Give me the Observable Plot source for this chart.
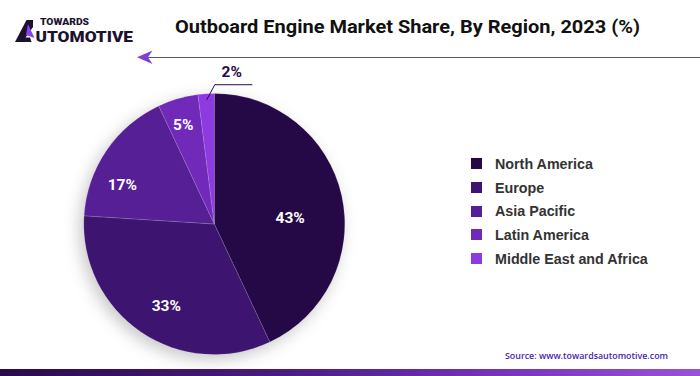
<!DOCTYPE html>
<html>
<head>
<meta charset="utf-8">
<script src="https://cdn.jsdelivr.net/npm/d3@7"></script>
<script src="https://cdn.jsdelivr.net/npm/@observablehq/plot@0.6"></script>
<style>
  html, body { margin: 0; padding: 0; background: #fff; }
  #wrap { position: relative; width: 700px; height: 376px; overflow: hidden; background: #fff; font-family: Roboto, "Open Sans", sans-serif; }
  #header { position: absolute; left: 0; top: 0; }
  #chart { position: absolute; left: 0; top: 60px; width: 700px; height: 306px; }
  #legend { position: absolute; left: 0; top: 0; }
  .lg-row { position: absolute; left: 471px; height: 16px; display: flex; align-items: center; white-space: nowrap; }
  .lg-sw { width: 11px; height: 11px; margin-right: 13px; }
  .lg-tx { font-family: "Liberation Sans", Arial, sans-serif; font-weight: 700; font-size: 14.3px; color: #333; line-height: 16px; }
  #footer { position: absolute; left: 0; top: 340px; }
  #bar { position: absolute; left: 0; top: 369px; width: 700px; height: 7px; background: linear-gradient(90deg, #2a0a4a 0%, #4a1a80 40%, #7a38bf 75%, #9a52d4 100%); }
</style>
</head>
<body>
<div id="wrap">
  <svg id="header" width="700" height="66" viewBox="0 0 700 66">
    <!-- logo -->
    <text x="40" y="25.3" font-family="Roboto, sans-serif" font-weight="900" font-size="8.4" fill="#1c1230" textLength="49" lengthAdjust="spacingAndGlyphs">TOWARDS</text>
    <polygon points="15,42 26.5,20 33,20 33,27 22.5,42" fill="#1c1230"/>
    <polygon points="28,24 34.5,38 26,35" fill="#8a44e6"/>
    <polygon points="19,37.5 30,37.5 31.5,42 18,42" fill="#1c1230"/>
    <text x="35.5" y="41.8" font-family="Roboto, sans-serif" font-weight="900" font-size="15" fill="#1c1230" textLength="97.5" lengthAdjust="spacingAndGlyphs">UTOMOTIVE</text>
    <!-- title -->
    <text x="407.5" y="33.4" text-anchor="middle" font-family="Roboto, sans-serif" font-weight="700" font-size="18.6" fill="#111" textLength="465" lengthAdjust="spacingAndGlyphs">Outboard Engine Market Share, By Region, 2023 (%)</text>
    <!-- rule with arrow -->
    <line x1="146" x2="700" y1="57.5" y2="57.5" stroke="#5a5a5a" stroke-width="1.2"/>
    <polygon points="137,57.3 152.5,50.5 148,57.3 152.5,64" fill="#7d3fd6"/>
  </svg>
  <div id="chart"></div>
  <div id="legend"></div>
  <svg id="footer" width="700" height="30" viewBox="0 340 700 30">
    <text x="505" y="358.6" font-family="'Open Sans', sans-serif" font-weight="600" font-size="9" fill="#4a22b2" textLength="163" lengthAdjust="spacingAndGlyphs">Source: www.towardsautomotive.com</text>
  </svg>
  <div id="bar"></div>
</div>
<script>
// ---- data ----
const regions = ["North America", "Europe", "Asia Pacific", "Latin America", "Middle East and Africa"];
const shares = [43, 33, 17, 5, 2];
const colors = ["#250946", "#3d146f", "#571f96", "#7029b8", "#8d3be0"];
const sourceText = "Source: www.towardsautomotive.com";

// ---- layout (pixels inside the chart svg) ----
const W = 700, H = 306;
const cx = 214.3, cy = 164, R = 130.5;
// per-slice label placement (radius fraction, angle nudge in degrees) for inside labels
const labelPlace = [
  {f: 0.58, da: 7.5},
  {f: 0.73, da: -3.6},
  {f: 0.77, da: -11.2},
  {f: 0.80, da: -1.4}
];

const data = regions.map((r, i) => ({region: r, share: shares[i], color: colors[i]}));
const arcs = d3.pie().sort(null).value(d => d.share)(data);
const slices = arcs.map(a => ({...a.data, a0: a.startAngle, a1: a.endAngle, mid: (a.startAngle + a.endAngle) / 2}));

const polar = (ang, f) => ({x: f * Math.sin(ang), y: -f * Math.cos(ang)});

const inside = [];
const outside = [];
let k = 0;
slices.forEach(s => {
  if (s.share >= 3) {
    const p = labelPlace[k++] || {f: 0.7, da: 0};
    const pt = polar(s.mid + p.da * Math.PI / 180, p.f);
    inside.push({...pt, label: s.share + "%"});
  } else {
    outside.push(s);
  }
});

// leader line for small slices
const leader = [];
const outLabels = [];
outside.forEach((s, i) => {
  const a = polar(s.mid, 0.96);
  const b = {x: a.x + 0.06, y: a.y - 0.113};
  const c = {x: b.x + 0.285, y: b.y};
  leader.push({...a, g: i}, {...b, g: i}, {...c, g: i});
  outLabels.push({x: b.x + 0.13, y: b.y - 0.097, label: s.share + "%"});
});

function sliceMark(index, scales) {
  const x0 = scales.x(0), y0 = scales.y(0);
  const r = scales.x(1) - scales.x(0);
  const arc = d3.arc().innerRadius(0).outerRadius(r);
  const g = d3.create("svg:g")
    .attr("transform", `translate(${x0},${y0})`)
    .style("filter", "drop-shadow(-4px 5px 8px rgba(0,0,0,0.22))");
  g.selectAll("path").data(slices).join("path")
    .attr("d", d => arc({startAngle: d.a0, endAngle: d.a1}))
    .attr("fill", d => d.color)
    .attr("stroke", "rgba(255,255,255,0.22)")
    .attr("stroke-width", 0.6);
  return g.node();
}

const chart = Plot.plot({
  width: W,
  height: H,
  margin: 0,
  style: {background: "transparent", overflow: "visible"},
  x: {domain: [-1, 1], range: [cx - R, cx + R], axis: null},
  y: {domain: [-1, 1], range: [cy - R, cy + R], axis: null},
  marks: [
    sliceMark,
    Plot.text(inside, {x: "x", y: "y", text: "label", fill: "#fff", fontSize: 15.5, fontWeight: 700, fontFamily: "Roboto, sans-serif"}),
    Plot.line(leader, {x: "x", y: "y", z: "g", stroke: "#2a0a4a", strokeWidth: 1}),
    Plot.text(outLabels, {x: "x", y: "y", text: "label", fill: "#2a0a4a", fontSize: 15.5, fontWeight: 700, fontFamily: "Roboto, sans-serif"})
  ]
});
document.getElementById("chart").appendChild(chart);

// legend
const lg = document.getElementById("legend");
regions.forEach((r, i) => {
  const row = document.createElement("div");
  row.className = "lg-row";
  row.style.top = (163.8 + 23.7 * i - 8) + "px";
  const sw = document.createElement("div");
  sw.className = "lg-sw";
  sw.style.background = colors[i];
  const tx = document.createElement("span");
  tx.className = "lg-tx";
  tx.textContent = r;
  row.appendChild(sw);
  row.appendChild(tx);
  lg.appendChild(row);
});
</script>
</body>
</html>
